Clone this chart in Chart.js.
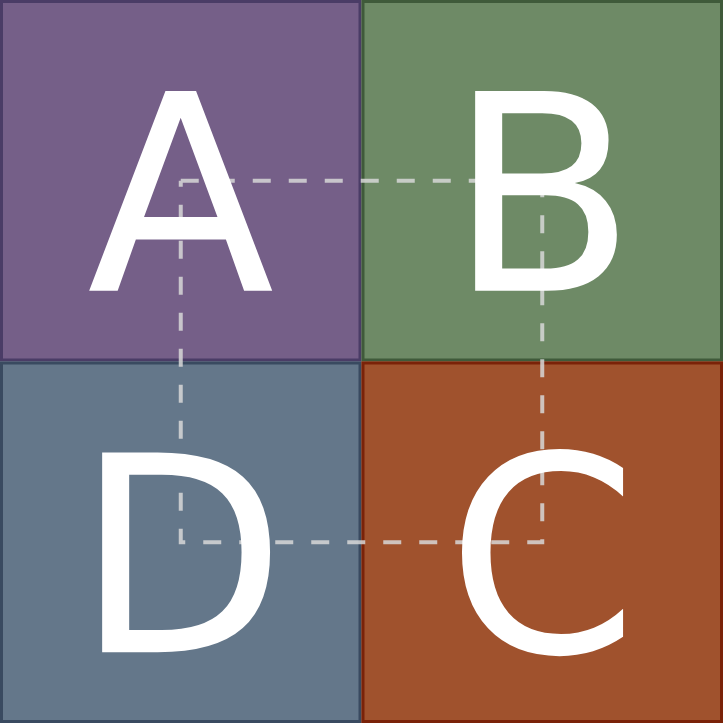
<!DOCTYPE html>
<html>
<head>
<meta charset="utf-8">
<script src="https://cdn.jsdelivr.net/npm/chart.js@4/dist/chart.umd.min.js"></script>
<style>
  html, body { margin: 0; padding: 0; background: #fff; }
  #wrap { width: 723px; height: 723px; }
</style>
</head>
<body>
<div id="wrap"><canvas id="grid"></canvas></div>
<script>
// cells of the 2x2 grid (column, row from bottom)
const cellLabels = ['A', 'B', 'D', 'C']
const cellCols = [0, 1, 0, 1]
const cellRows = [1, 1, 0, 0]
const cellFill = ['#755f88', '#6e8a66', '#64778a', '#a0522d']
const cellBorder = ['#4a3c66', '#3f5a3a', '#394a60', '#7a2208']

// dashed path through the cell centres
const pathX = [0.5, 1.5, 1.5, 0.5, 0.5]
const pathY = [1.5, 1.5, 0.5, 0.5, 1.5]

const cellPlugin = {
  id: 'cells',
  beforeDatasetsDraw (chart) {
    const { ctx, scales: { x, y } } = chart
    ctx.save()
    cellLabels.forEach((lbl, i) => {
      const x0 = x.getPixelForValue(cellCols[i])
      const x1 = x.getPixelForValue(cellCols[i] + 1)
      const y0 = y.getPixelForValue(cellRows[i] + 1)
      const y1 = y.getPixelForValue(cellRows[i])
      ctx.fillStyle = cellFill[i]
      ctx.fillRect(x0, y0, x1 - x0, y1 - y0)
      ctx.strokeStyle = cellBorder[i]
      ctx.lineWidth = 3
      ctx.strokeRect(x0 + 1.5, y0 + 1.5, x1 - x0 - 3, y1 - y0 - 3)
    })
    ctx.restore()
  },
  afterDatasetsDraw (chart) {
    const { ctx, scales: { x, y } } = chart
    ctx.save()
    ctx.fillStyle = '#ffffff'
    ctx.font = '274px "DejaVu Sans"'
    ctx.textAlign = 'center'
    ctx.textBaseline = 'alphabetic'
    cellLabels.forEach((lbl, i) => {
      const cx = x.getPixelForValue(cellCols[i] + 0.5)
      const cy = y.getPixelForValue(cellRows[i] + 0.5)
      ctx.fillText(lbl, cx, cy + 110)
    })
    ctx.restore()
  }
}

new Chart(document.getElementById('grid'), {
  type: 'scatter',
  data: {
    datasets: [{
      data: pathX.map((v, i) => ({ x: v, y: pathY[i] })),
      showLine: true,
      borderColor: 'rgba(215,215,215,0.85)',
      borderWidth: 4,
      borderDash: [18, 18],
      pointRadius: 0,
      tension: 0,
      fill: false
    }]
  },
  options: {
    responsive: true,
    maintainAspectRatio: false,
    animation: false,
    layout: { padding: 0 },
    plugins: { legend: { display: false }, tooltip: { enabled: false } },
    scales: {
      x: { type: 'linear', min: 0, max: 2, display: false },
      y: { type: 'linear', min: 0, max: 2, display: false }
    }
  },
  plugins: [cellPlugin]
})
</script>
</body>
</html>
